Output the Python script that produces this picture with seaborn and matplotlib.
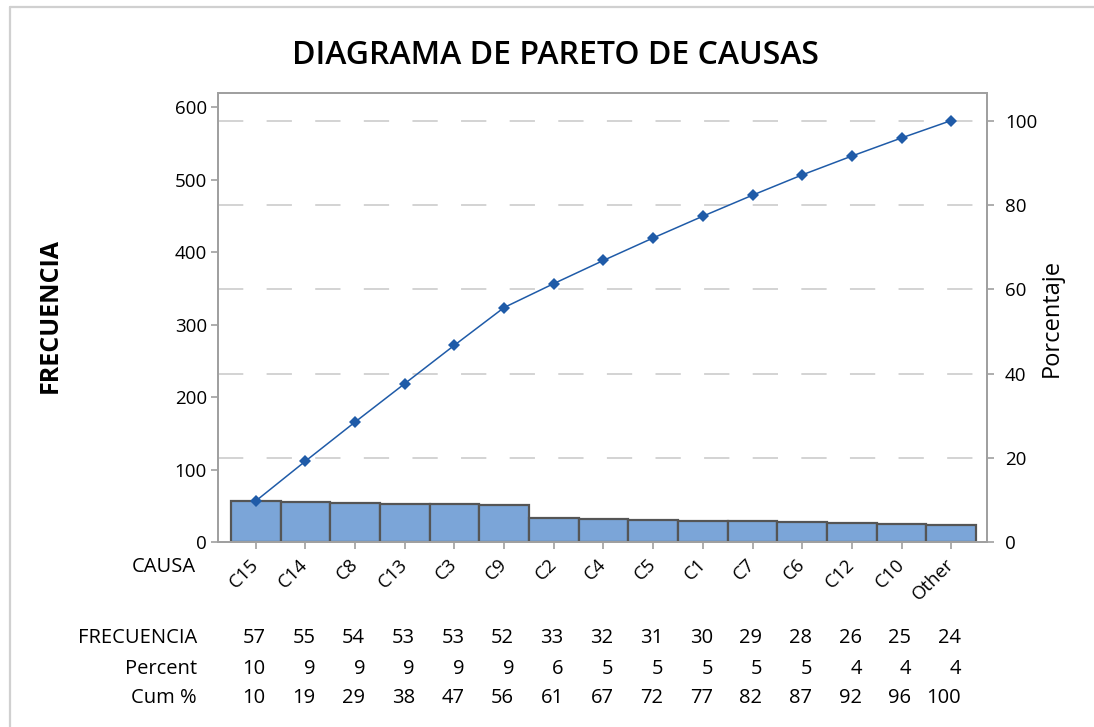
import numpy as np
import pandas as pd
import matplotlib
matplotlib.use("Agg")
import matplotlib.pyplot as plt
import matplotlib.transforms as mtransforms
from matplotlib.lines import Line2D
import seaborn as sns

# ---- data ----
causes = ["C15", "C14", "C8", "C13", "C3", "C9", "C2", "C4", "C5", "C1",
          "C7", "C6", "C12", "C10", "Other"]
frequency = [57, 55, 54, 53, 53, 52, 33, 32, 31, 30, 29, 28, 26, 25, 24]
percent = [10, 9, 9, 9, 9, 9, 6, 5, 5, 5, 5, 5, 4, 4, 4]
cum_percent = [10, 19, 29, 38, 47, 56, 61, 67, 72, 77, 82, 87, 92, 96, 100]
left_ticks = [0, 100, 200, 300, 400, 500, 600]
right_ticks = [0, 20, 40, 60, 80, 100]

sns.set_theme(style="white")
plt.rcParams["font.family"] = ["Open Sans", "DejaVu Sans"]

df = pd.DataFrame({"causa": causes, "freq": frequency})
df["cum"] = df["freq"].cumsum()
df["pos"] = np.arange(len(df))
total = df["freq"].sum()

W, H = 1094, 727
fig = plt.figure(figsize=(W / 100, H / 100), dpi=100)
ax = fig.add_axes([218 / W, 1 - 542.3 / H, (987 - 218) / W, (542.3 - 93) / H])

bar_color = "#7BA5D8"
edge_color = "#555555"
line_color = "#1F5BA8"
spine_color = "#A0A0A0"
text_color = "#000000"

sns.barplot(data=df, x="causa", y="freq", color=bar_color, saturation=1,
            width=1.0, edgecolor=edge_color, linewidth=1.6, ax=ax, zorder=2)

sns.lineplot(x=df["pos"], y=df["cum"], color=line_color, linewidth=1.1,
             marker="D", markersize=6, markeredgewidth=0, ax=ax, zorder=4)

ylim_top = 620
ax.set_ylim(0, ylim_top)
ax.set_xlim(-0.76, len(causes) - 0.5 + 0.22)

# dashed gridlines at percentage ticks
for p in right_ticks[1:]:
    ax.axhline(total * p / 100, color="#D3D3D3", linewidth=1.4,
               dashes=(13, 12), dash_capstyle="butt", zorder=0)

ax.set_yticks(left_ticks)
ax.set_yticklabels([str(t) for t in left_ticks])
ax.set_xticks(df["pos"])
ax.set_xticklabels(causes, rotation=45, ha="right", rotation_mode="anchor",
                   va="center")
ax.set_xlabel("")
ax.set_ylabel("FRECUENCIA", fontsize=18, fontweight="bold", color=text_color,
              labelpad=0)
ax.yaxis.set_label_coords(-0.2016, 0.505)

ax.tick_params(axis="y", which="both", direction="out", length=5, width=1.2,
               color=spine_color, labelsize=13.5, labelcolor=text_color, pad=3,
               left=True)
ax.tick_params(axis="x", which="both", direction="out", length=5, width=1.2,
               color=spine_color, labelsize=13.5, labelcolor=text_color, pad=9,
               bottom=True)

for side in ["left", "right", "top", "bottom"]:
    ax.spines[side].set_visible(True)
    ax.spines[side].set_color(spine_color)
    ax.spines[side].set_linewidth(1.3)

ax2 = ax.twinx()
ax2.set_ylim(0, ylim_top / total * 100)
ax2.set_yticks(right_ticks)
ax2.set_yticklabels([str(t) for t in right_ticks])
ax2.tick_params(axis="y", direction="out", length=5, width=1.2,
                color=spine_color, labelsize=13.5, labelcolor=text_color, pad=8)
ax2.set_ylabel("Porcentaje", fontsize=17, color=text_color, labelpad=0)
ax2.yaxis.set_label_coords(1.068, 0.5)
for side in ["left", "right", "top", "bottom"]:
    ax2.spines[side].set_color(spine_color)
    ax2.spines[side].set_linewidth(1.3)
ax2.grid(False)

fig.text(555 / W, 1 - 56 / H, "DIAGRAMA DE PARETO DE CAUSAS", fontsize=23,
         fontweight="semibold", ha="center", va="center", color=text_color)

# CAUSA label
fig.text(196 / W, 1 - 567 / H, "CAUSA", fontsize=14.5,
         ha="right", va="center", color=text_color)

# table below
trans = mtransforms.blended_transform_factory(ax.transData, fig.transFigure)
rows = [("FRECUENCIA", frequency, 638), ("Percent", percent, 669),
        ("Cum %", cum_percent, 698)]
for label, vals, ypix in rows:
    fig.text(197 / W, 1 - ypix / H, label, fontsize=14.5,
             ha="right", va="center", color=text_color)
    for pos, v in zip(df["pos"], vals):
        ax.text(pos + 0.2, 1 - ypix / H, str(v), transform=trans,
                fontsize=14.5, ha="right", va="center",
                color=text_color, clip_on=False)

# screenshot frame (top and left edges)
fig.add_artist(Line2D([9.5 / W, 9.5 / W], [0, 1 - 6.5 / H],
                      transform=fig.transFigure, color="#D0D0D0", linewidth=1.6))
fig.add_artist(Line2D([9.5 / W, 1], [1 - 6.5 / H, 1 - 6.5 / H],
                      transform=fig.transFigure, color="#D0D0D0", linewidth=1.6))

fig.savefig("out.png", dpi=100, facecolor="white")
